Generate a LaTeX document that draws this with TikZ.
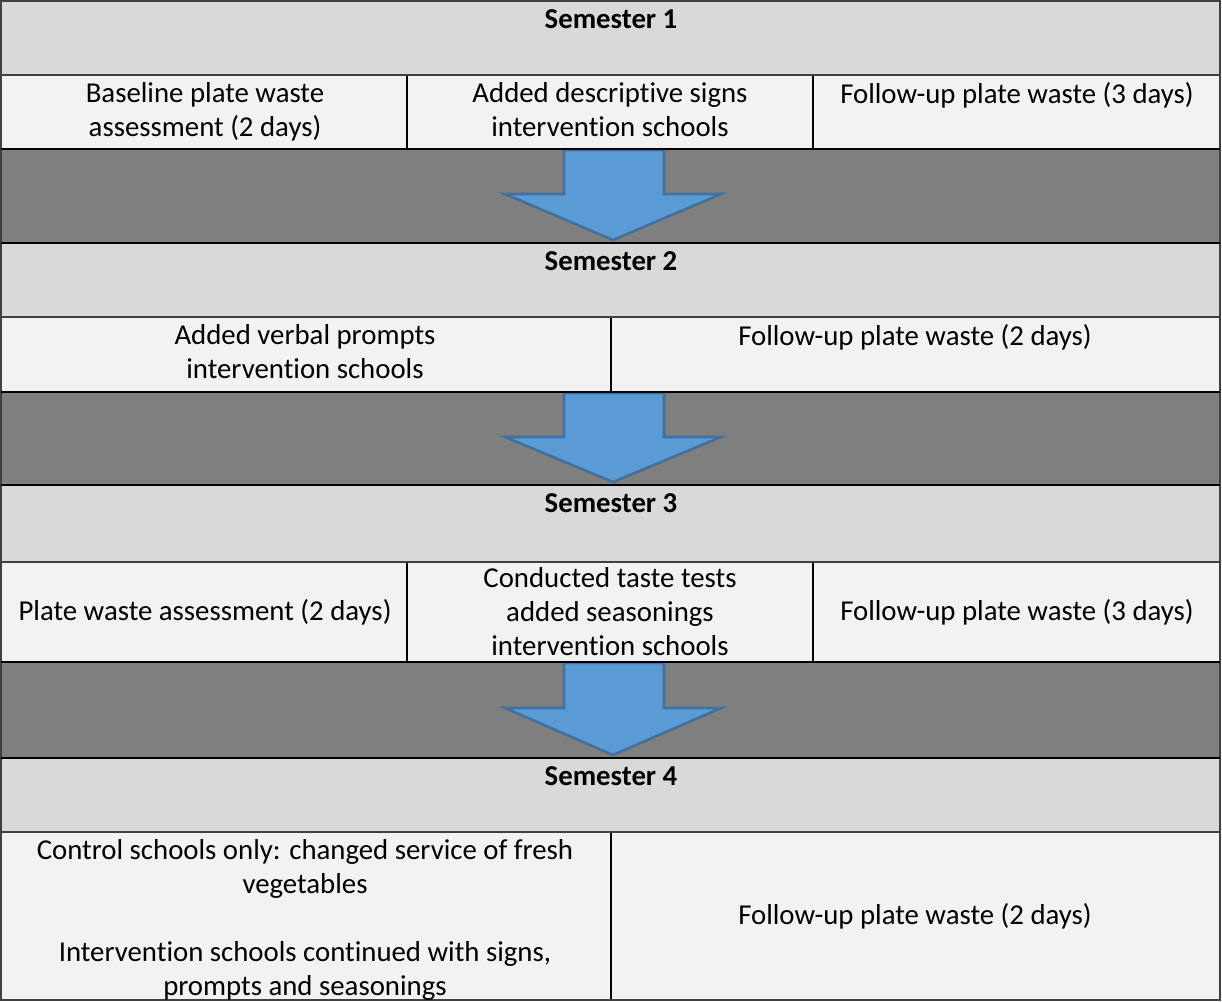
\documentclass[tikz,border=0pt]{standalone}
\usepackage{fontspec}
\setmainfont[Ligatures=NoCommon]{Carlito}
\usepackage{tikz}

\definecolor{hdrgray}{HTML}{D9D9D9}
\definecolor{cellgray}{HTML}{F2F2F2}
\definecolor{bandgray}{HTML}{7F7F7F}
\definecolor{arrowblue}{HTML}{5B9BD5}
\definecolor{arrowline}{HTML}{41719C}

\tikzset{
  hdr/.style={fill=hdrgray},
  cell/.style={fill=cellgray},
  band/.style={fill=bandgray},
  thinline/.style={draw=black!75, line width=1.3pt},
  thickline/.style={draw=black, line width=2.6pt},
  divline/.style={draw=black, line width=2.2pt},
  blockarrow/.style={fill=arrowblue, draw=arrowline, line width=2.6pt, line join=miter},
  txt/.style={align=center, inner sep=0pt, font=\fontsize{28.8}{34}\selectfont},
  semtxt/.style={txt, font=\fontsize{28.8}{34}\selectfont\bfseries},
}

\begin{document}
\begin{tikzpicture}[x=1pt,y=-1pt]
    \useasboundingbox (0,0) rectangle (1222,1001);
    % Semester 1
    \fill[hdr] (1,1) rectangle (1220,75);
    \fill[cell] (1,75) rectangle (1220,149);
    \fill[band] (1,149) rectangle (1220,243);
    % Semester 2
    \fill[hdr] (1,243) rectangle (1220,317);
    \fill[cell] (1,317) rectangle (1220,392);
    \fill[band] (1,392) rectangle (1220,485);
    % Semester 3
    \fill[hdr] (1,485) rectangle (1220,562);
    \fill[cell] (1,562) rectangle (1220,662);
    \fill[band] (1,662) rectangle (1220,758);
    % Semester 4
    \fill[hdr] (1,758) rectangle (1220,832);
    \fill[cell] (1,832) rectangle (1220,1000);
    % Arrows
    \draw[blockarrow] (564,150) -- (664,150) -- (664,194) -- (721,194) -- (613,240) -- (505,194) -- (564,194) -- cycle;
    \draw[blockarrow] (564,393) -- (664,393) -- (664,437) -- (721,437) -- (613,482) -- (505,437) -- (564,437) -- cycle;
    \draw[blockarrow] (564,663) -- (664,663) -- (664,708) -- (721,708) -- (613,755) -- (505,708) -- (564,708) -- cycle;
    % Lines
    \draw[thinline] (1,1) rectangle (1220,1000);
    \draw[thinline] (1,75) -- (1220,75);
    \draw[thinline] (1,317) -- (1220,317);
    \draw[thinline] (1,562) -- (1220,562);
    \draw[thinline] (1,832) -- (1220,832);
    \draw[thickline] (1,149) -- (1220,149);
    \draw[thickline] (1,243) -- (1220,243);
    \draw[thickline] (1,392) -- (1220,392);
    \draw[thickline] (1,485) -- (1220,485);
    \draw[thickline] (1,662) -- (1220,662);
    \draw[thickline] (1,758) -- (1220,758);
    \draw[divline] (407,76) -- (407,148);
    \draw[divline] (813,76) -- (813,148);
    \draw[divline] (611,318) -- (611,391);
    \draw[divline] (407,563) -- (407,661);
    \draw[divline] (813,563) -- (813,661);
    \draw[divline] (611,833) -- (611,999);
    % Texts semester 1
    \node[semtxt] (sem1) at (611,19) {Semester 1};
    \node[txt, anchor=north] (base) at (205,82) {Baseline plate waste\\assessment (2 days)};
    \node[txt, anchor=north] (signs) at (610,82) {Added descriptive signs\\intervention schools};
    \node[txt, anchor=north] (follow1) at (1017,82) {Follow-up plate waste (3 days)};
    % Texts semester 2
    \node[semtxt] (sem2) at (611,261) {Semester 2};
    \node[txt, anchor=north] (prompts) at (305,324) {Added verbal prompts\\intervention schools};
    \node[txt, anchor=north] (follow2) at (915,324) {Follow-up plate waste (2 days)};
    % Texts semester 3
    \node[semtxt] (sem3) at (611,503) {Semester 3};
    \node[txt] (plate) at (205,612) {Plate waste assessment (2 days)};
    \node[txt] (taste) at (610,612) {Conducted taste tests\\added seasonings\\intervention schools};
    \node[txt] (follow3) at (1017,612) {Follow-up plate waste (3 days)};
    % Texts semester 4
    \node[semtxt] (sem4) at (611,776) {Semester 4};
    \node[txt, anchor=north] (control) at (305,839) {Control schools only: changed service of fresh\\vegetables\\[34pt]Intervention schools continued with signs,\\prompts and seasonings};
    \node[txt] (follow4) at (915,916) {Follow-up plate waste (2 days)};
\end{tikzpicture}
\end{document}
